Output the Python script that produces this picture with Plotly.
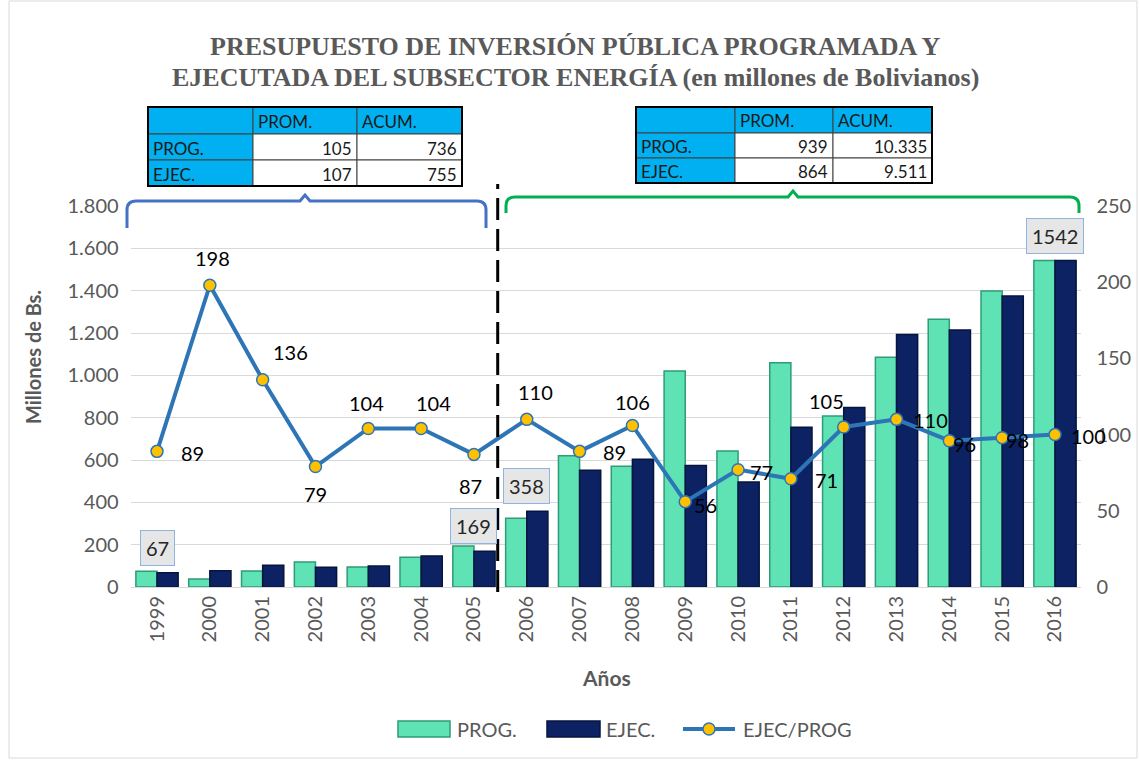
import plotly.graph_objects as go

W, H = 1140, 762

years = [str(y) for y in range(1999, 2017)]
prog = [75, 38, 76, 118, 95, 140, 194, 325, 620, 570, 1020, 642, 1060, 808, 1085, 1265, 1398, 1542]
ejec = [67, 77, 103, 93, 99, 147, 169, 358, 552, 604, 574, 496, 755, 848, 1193, 1214, 1375, 1542]
ratio = [89, 198, 136, 79, 104, 104, 87, 110, 89, 106, 56, 77, 71, 105, 110, 96, 98, 100]

boxed_years = ["1999", "2005", "2006", "2016"]
boxed_vals = [67, 169, 358, 1542]

left_ticks = [0, 200, 400, 600, 800, 1000, 1200, 1400, 1600, 1800]
right_ticks = [0, 50, 100, 150, 200, 250]

tab_head = ["", "PROM.", "ACUM."]
tab_left = [["PROG.", "105", "736"], ["EJEC.", "107", "755"]]
tab_right = [["PROG.", "939", "10.335"], ["EJEC.", "864", "9.511"]]

# label offsets (px) for ratio labels
lab_dx = [35, 3, 28, 0, -2, 12, -3, 9, 35, 0, 20, 23, 36, -17, 34, 15, 15, 34]
lab_dy = [-2, 27, 28, -27, 26, 26, -32, 27, -1, 23, -3, -2, -1, 26, -1, -3, -2, -1]

GRAY = "#595959"
FONT = "Lato"
C_PROG = "#5fe3b5"
C_PROG_EDGE = "#2e9c78"
C_EJEC = "#0c2262"
C_EJEC_EDGE = "#06153f"
C_LINE = "#2e75b6"
C_MARK = "#ffc000"

def px(x):
    return x / W

def py(y):
    return 1 - y / H

x0p, x1p = 130.6, 1081.4
y0p, y1p = 587, 206

fig = go.Figure()
fig.add_trace(go.Bar(x=years, y=prog, name="PROG.", showlegend=False,
                     marker=dict(color=C_PROG, line=dict(color=C_PROG_EDGE, width=1.5))))
fig.add_trace(go.Bar(x=years, y=ejec, name="EJEC.", showlegend=False,
                     marker=dict(color=C_EJEC, line=dict(color=C_EJEC_EDGE, width=1.5))))
fig.add_trace(go.Scatter(x=years, y=ratio, name="EJEC/PROG", yaxis="y2", mode="lines+markers",
                         showlegend=False, line=dict(color=C_LINE, width=4),
                         marker=dict(size=12, color=C_MARK, line=dict(color=C_LINE, width=1.5))))

annotations = []
shapes = []

# ratio labels
for i, (v, dx, dy) in enumerate(zip(ratio, lab_dx, lab_dy)):
    annotations.append(dict(x=i, y=v, xref="x", yref="y2", text=str(v), showarrow=False,
                            xanchor="center", yanchor="middle",
                            xshift=dx, yshift=dy, font=dict(family=FONT, size=20, color="black")))

# boxed value labels
for yr, v in zip(boxed_years, boxed_vals):
    annotations.append(dict(x=years.index(yr), y=v, xref="x", yref="y", text=str(v), showarrow=False,
                            xanchor="center", yanchor="middle",
                            yshift=25, font=dict(family=FONT, size=20, color="#262626"),
                            bgcolor="#e7e6e6", bordercolor="#8fb4e3", borderwidth=1, borderpad=5))

def ptext(x, y, text, size, family=FONT, color=GRAY, xanchor="center", angle=0):
    annotations.append(dict(x=px(x), y=py(y), xref="paper", yref="paper", showarrow=False,
                            text=text, xanchor=xanchor, yanchor="middle", textangle=angle,
                            font=dict(family=family, size=size, color=color)))

# title
ptext(575, 46, "<b>PRESUPUESTO DE INVERSIÓN PÚBLICA PROGRAMADA Y</b>", 26, family="Liberation Serif")
ptext(575, 77, "<b>EJECUTADA DEL SUBSECTOR ENERGÍA (en millones de Bolivianos)</b>", 26,
      family="Liberation Serif")

# axis titles
ptext(33, 357, "<b>Millones de Bs.</b>", 20, angle=-90)
ptext(606, 677, "<b>Años</b>", 21)

# tables
def add_table(cols, rows, head, data):
    for r in range(3):
        for c in range(3):
            cyan = (r == 0 or c == 0)
            shapes.append(dict(type="rect", xref="paper", yref="paper",
                               x0=px(cols[c]), x1=px(cols[c + 1]), y0=py(rows[r + 1]), y1=py(rows[r]),
                               fillcolor="#00b0f0" if cyan else "white",
                               line=dict(color="#404040", width=1), layer="above"))
            txt = head[c] if r == 0 else data[r - 1][c]
            if not txt:
                continue
            right = (r > 0 and c > 0)
            ptext(cols[c + 1] - 3 if right else cols[c] + 3, (rows[r] + rows[r + 1]) / 2 + 1, txt, 17,
                  color="#1a1a1a", xanchor="right" if right else "left")
    shapes.append(dict(type="rect", xref="paper", yref="paper",
                       x0=px(cols[0]), x1=px(cols[-1]), y0=py(rows[-1]), y1=py(rows[0]),
                       line=dict(color="black", width=2), layer="above"))

add_table([148, 253, 357, 462], [107, 134, 160, 186], tab_head, tab_left)
add_table([636, 735, 833, 932], [107, 133, 158, 183], tab_head, tab_right)

# brackets
def bracket(xa, xb, yt, yb, xm, color):
    r = 9
    pts = (f"M {px(xa)},{py(yb)} L {px(xa)},{py(yt + r)} Q {px(xa)},{py(yt)} {px(xa + r)},{py(yt)} "
           f"L {px(xm - 5)},{py(yt)} L {px(xm)},{py(yt - 6)} L {px(xm + 5)},{py(yt)} "
           f"L {px(xb - r)},{py(yt)} Q {px(xb)},{py(yt)} {px(xb)},{py(yt + r)} L {px(xb)},{py(yb)}")
    shapes.append(dict(type="path", xref="paper", yref="paper", path=pts,
                       line=dict(color=color, width=3)))

bracket(127, 486, 201, 228, 305, "#4472c4")
bracket(506, 1079, 197, 213, 793, "#00b050")

# dashed separator between 2005 and 2006
shapes.append(dict(type="line", xref="x", yref="paper", x0=6.45, x1=6.45, y0=py(592), y1=py(184),
                   line=dict(color="black", width=3, dash="22px,9px"), layer="above"))

# custom legend (wide swatches like the original)
leg_y = 729
shapes.append(dict(type="rect", xref="paper", yref="paper", x0=px(398), x1=px(450),
                   y0=py(leg_y + 8), y1=py(leg_y - 8), fillcolor=C_PROG,
                   line=dict(color=C_PROG_EDGE, width=1.5)))
ptext(455, leg_y, "PROG.", 20, xanchor="left")
shapes.append(dict(type="rect", xref="paper", yref="paper", x0=px(547), x1=px(600),
                   y0=py(leg_y + 8), y1=py(leg_y - 8), fillcolor=C_EJEC,
                   line=dict(color=C_EJEC_EDGE, width=1.5)))
ptext(604, leg_y, "EJEC.", 20, xanchor="left")
shapes.append(dict(type="line", xref="paper", yref="paper", x0=px(683), x1=px(735),
                   y0=py(leg_y), y1=py(leg_y), line=dict(color=C_LINE, width=4)))
shapes.append(dict(type="circle", xref="paper", yref="paper", x0=px(703), x1=px(715),
                   y0=py(leg_y + 6), y1=py(leg_y - 6), fillcolor=C_MARK,
                   line=dict(color=C_LINE, width=1.5)))
ptext(741, leg_y, "EJEC/PROG", 20, xanchor="left")

# outer border
shapes.append(dict(type="rect", xref="paper", yref="paper", x0=px(9), x1=px(1137), y0=py(758), y1=py(1),
                   line=dict(color="#d9d9d9", width=1)))

fig.update_layout(
    width=W, height=H, margin=dict(l=0, r=0, t=0, b=0),
    paper_bgcolor="white", plot_bgcolor="white",
    separators=",.",
    barmode="group", bargap=0.2, bargroupgap=0.0,
    font=dict(family=FONT, color=GRAY, size=20),
    showlegend=False,
    xaxis=dict(domain=[px(x0p), px(x1p)], type="category", range=[-0.5, 17.5], tickangle=-90,
               automargin=False, tickfont=dict(family=FONT, size=20, color=GRAY), showgrid=False,
               ticks="", showline=True, linecolor="#d9d9d9", linewidth=1),
    yaxis=dict(domain=[py(y0p), py(y1p)], range=[0, 1800], tickvals=left_ticks, tickformat=",d",
               automargin=False, tickfont=dict(family=FONT, size=20, color=GRAY),
               showgrid=True, gridcolor="#d9d9d9", gridwidth=1, zeroline=False, ticklabelstandoff=11),
    yaxis2=dict(overlaying="y", side="right", range=[0, 250], tickvals=right_ticks, automargin=False,
                tickfont=dict(family=FONT, size=20, color=GRAY), showgrid=False, zeroline=False,
                ticklabelstandoff=14),
    annotations=annotations, shapes=shapes,
)

fig.write_html("out.html", config={"displayModeBar": False},
               post_script="document.body.style.margin='0';")
